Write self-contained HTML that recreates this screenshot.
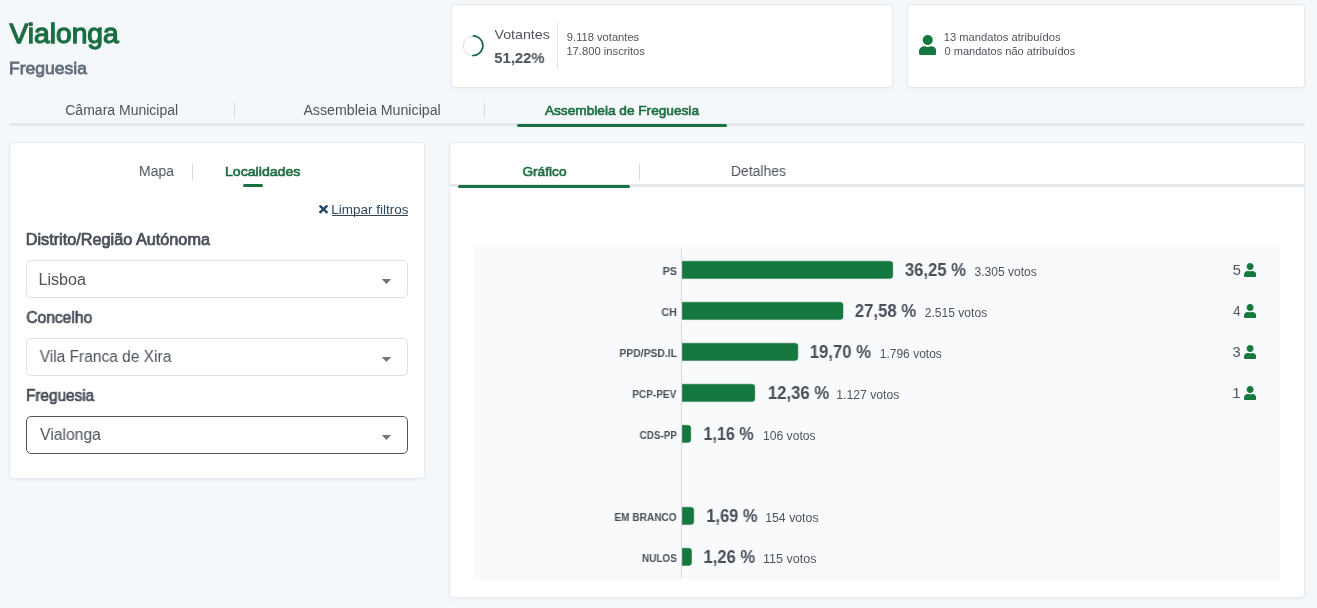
<!DOCTYPE html>
<html lang="pt">
<head>
<meta charset="utf-8">
<title>Vialonga - Freguesia</title>
<style>
html,body{margin:0;padding:0;}
body{width:1317px;height:608px;position:relative;overflow:hidden;background:#f5f8fb;font-family:"Liberation Sans",sans-serif;}
.t{position:absolute;left:0;top:0;white-space:nowrap;line-height:1;transform-origin:0 0;will-change:transform;font-family:"Liberation Sans",sans-serif;}
.a{position:absolute;}
.card{position:absolute;background:#fff;border:1px solid #e6e9ee;border-radius:4px;box-sizing:border-box;box-shadow:0 2px 4px rgba(60,80,110,0.045);}
.vd{position:absolute;width:1px;background:#d7dbe0;}
.gl{position:absolute;background:#e4e8ed;}
.gr{position:absolute;background:#1a7040;border-radius:2px;}
.sel{position:absolute;left:26px;width:382px;height:38px;box-sizing:border-box;border:1px solid #dee0e4;border-radius:5px;background:#fff;}
.sel.act{border-color:#50555c;}
</style>
</head>
<body>

<!-- top cards -->
<div class="card" style="left:451px;top:4px;width:442px;height:84px;"></div>
<div class="card" style="left:907px;top:4px;width:398px;height:84px;"></div>

<!-- donut -->
<svg class="a" style="left:460px;top:33px;" width="26" height="26" viewBox="0 0 26 26">
  <circle cx="13.1" cy="12.7" r="9.8" fill="none" stroke="#e8eaec" stroke-width="1.5"/>
  <circle cx="13.1" cy="12.7" r="9.8" fill="none" stroke="#1d6b41" stroke-width="1.7" stroke-linecap="round"
          stroke-dasharray="30.6 62" transform="rotate(-88 13.1 12.7)"/>
</svg>
<div class="vd" style="left:557px;top:22px;height:47px;background:#e1e4e8;"></div>

<!-- big person icon -->
<svg class="a" style="left:918.7px;top:35.4px;" width="17.5" height="20" viewBox="0 0 448 512"><path fill="#15793f" d="M224 256c70.700 0 128-57.300 128-128S294.700 0 224 0 96 57.300 96 128s57.300 128 128 128zm89.600 32h-16.700c-22.200 10.200-46.900 16-72.900 16s-50.600-5.800-72.900-16h-16.700C60.200 288 0 348.200 0 422.400V464c0 26.500 21.500 48 48 48h352c26.500 0 48-21.500 48-48v-41.600c0-74.200-60.200-134.400-134.400-134.400z"/></svg>

<!-- main tabs -->
<div class="gl" style="left:9px;top:123px;width:1296px;height:3px;border-radius:1.5px;"></div>
<div class="gr" style="left:517px;top:124px;width:210px;height:3px;"></div>
<div class="vd" style="left:234px;top:103px;height:15px;"></div>
<div class="vd" style="left:484px;top:103px;height:15px;"></div>

<!-- left panel -->
<div class="card" style="left:9px;top:142px;width:416px;height:337px;"></div>
<div class="vd" style="left:192px;top:164px;height:16px;"></div>
<div class="gr" style="left:243.3px;top:184px;width:19.6px;height:3px;"></div>
<svg class="a" style="left:318.5px;top:202.85px;" width="9" height="12.3" viewBox="0 0 352 512" preserveAspectRatio="none"><path fill="#1e4369" d="M242.720 256l100.070-100.070c12.280-12.280 12.280-32.190 0-44.480l-22.240-22.240c-12.280-12.280-32.190-12.280-44.480 0L176 189.280 75.930 89.210c-12.280-12.280-32.190-12.280-44.480 0L9.210 111.450c-12.280 12.280-12.280 32.190 0 44.480L109.280 256 9.210 356.070c-12.280 12.280-12.280 32.190 0 44.480l22.240 22.240c12.280 12.280 32.200 12.280 44.480 0L176 322.720l100.070 100.070c12.280 12.280 32.200 12.280 44.480 0l22.240-22.240c12.280-12.280 12.280-32.190 0-44.480L242.720 256z"/></svg>

<div class="sel" style="top:260px;"></div><svg class="a" style="left:381px;top:278.9px;" width="11" height="6" viewBox="0 0 11 6"><path fill="#757575" d="M0.800 0.100H10.100L5.450 4.900Z"/></svg>
<div class="sel" style="top:338px;"></div><svg class="a" style="left:381px;top:356.9px;" width="11" height="6" viewBox="0 0 11 6"><path fill="#757575" d="M0.800 0.100H10.100L5.450 4.900Z"/></svg>
<div class="sel act" style="top:416px;"></div><svg class="a" style="left:381px;top:434.9px;" width="11" height="6" viewBox="0 0 11 6"><path fill="#757575" d="M0.800 0.100H10.100L5.450 4.900Z"/></svg>

<!-- right panel -->
<div class="card" style="left:449px;top:142px;width:856px;height:456px;"></div>
<div class="gl" style="left:450px;top:184px;width:854px;height:3px;"></div>
<div class="gr" style="left:458px;top:185px;width:172.4px;height:3px;"></div>
<div class="vd" style="left:639px;top:164px;height:16px;"></div>

<!-- chart -->
<div class="a" style="left:474px;top:245px;width:806px;height:335px;background:#f9fafc;"></div>
<div class="a" style="left:681px;top:249px;width:1px;height:330px;background:#d6d9de;"></div>
<svg class="a" style="left:682px;top:0;" width="230" height="608" viewBox="0 0 230 608"><path fill="#15793f" stroke="#1f6d43" stroke-opacity="0.55" stroke-width="0.8" d="M0.200 261.2H207.80Q210.80 261.2 210.80 264.00V275.60Q210.80 278.60 207.80 278.60H0.200Z"/><path fill="#15793f" stroke="#1f6d43" stroke-opacity="0.55" stroke-width="0.8" d="M0.200 302.2H158.00Q161.00 302.2 161.00 305.00V316.60Q161.00 319.60 158.00 319.60H0.200Z"/><path fill="#15793f" stroke="#1f6d43" stroke-opacity="0.55" stroke-width="0.8" d="M0.200 343.2H112.90Q115.90 343.2 115.90 346.00V357.60Q115.90 360.60 112.90 360.60H0.200Z"/><path fill="#15793f" stroke="#1f6d43" stroke-opacity="0.55" stroke-width="0.8" d="M0.200 384.2H69.80Q72.80 384.2 72.80 387.00V398.60Q72.80 401.60 69.80 401.60H0.200Z"/><path fill="#15793f" stroke="#1f6d43" stroke-opacity="0.55" stroke-width="0.8" d="M0.200 425.2H5.80Q8.80 425.2 8.80 428.00V439.60Q8.80 442.60 5.80 442.60H0.200Z"/><path fill="#15793f" stroke="#1f6d43" stroke-opacity="0.55" stroke-width="0.8" d="M0.200 507.2H8.75Q11.75 507.2 11.75 510.00V521.60Q11.75 524.60 8.75 524.60H0.200Z"/><path fill="#15793f" stroke="#1f6d43" stroke-opacity="0.55" stroke-width="0.8" d="M0.200 548.2H6.60Q9.60 548.2 9.60 551.00V562.60Q9.60 565.60 6.60 565.60H0.200Z"/></svg>
<svg class="a" style="left:1244px;top:263.05px;" width="12.25" height="14" viewBox="0 0 448 512"><path fill="#15793f" d="M224 256c70.700 0 128-57.300 128-128S294.700 0 224 0 96 57.300 96 128s57.300 128 128 128zm89.600 32h-16.700c-22.200 10.200-46.900 16-72.900 16s-50.600-5.800-72.900-16h-16.700C60.200 288 0 348.200 0 422.400V464c0 26.500 21.500 48 48 48h352c26.500 0 48-21.500 48-48v-41.600c0-74.200-60.200-134.400-134.400-134.400z"/></svg>
<svg class="a" style="left:1244px;top:304.05px;" width="12.25" height="14" viewBox="0 0 448 512"><path fill="#15793f" d="M224 256c70.700 0 128-57.300 128-128S294.700 0 224 0 96 57.300 96 128s57.300 128 128 128zm89.600 32h-16.700c-22.200 10.200-46.900 16-72.900 16s-50.600-5.800-72.900-16h-16.700C60.200 288 0 348.200 0 422.400V464c0 26.500 21.500 48 48 48h352c26.500 0 48-21.500 48-48v-41.600c0-74.200-60.200-134.400-134.400-134.400z"/></svg>
<svg class="a" style="left:1244px;top:345.05px;" width="12.25" height="14" viewBox="0 0 448 512"><path fill="#15793f" d="M224 256c70.700 0 128-57.300 128-128S294.700 0 224 0 96 57.300 96 128s57.300 128 128 128zm89.600 32h-16.700c-22.200 10.200-46.900 16-72.900 16s-50.600-5.800-72.900-16h-16.700C60.200 288 0 348.200 0 422.400V464c0 26.500 21.500 48 48 48h352c26.500 0 48-21.500 48-48v-41.600c0-74.200-60.200-134.400-134.400-134.400z"/></svg>
<svg class="a" style="left:1244px;top:386.05px;" width="12.25" height="14" viewBox="0 0 448 512"><path fill="#15793f" d="M224 256c70.700 0 128-57.300 128-128S294.700 0 224 0 96 57.300 96 128s57.300 128 128 128zm89.600 32h-16.700c-22.200 10.200-46.900 16-72.900 16s-50.600-5.800-72.900-16h-16.700C60.200 288 0 348.200 0 422.400V464c0 26.500 21.500 48 48 48h352c26.500 0 48-21.500 48-48v-41.600c0-74.200-60.200-134.400-134.400-134.400z"/></svg>

<div class="a" style="left:331.8px;top:215px;width:76px;height:1px;background:#33485b;"></div>
<span class="t" style="font-size:28px;transform:translate(9.42px,20.00px) scaleX(1.0076);color:#1b6e40;font-weight:400;-webkit-text-stroke:1.26px #1b6e40;">Vialonga</span>
<span class="t" style="font-size:17px;transform:translate(8.91px,60.00px) scaleX(1.0332);color:#626c7b;font-weight:400;-webkit-text-stroke:0.77px #626c7b;">Freguesia</span>
<span class="t" style="font-size:13.4px;transform:translate(494.55px,28.00px) scaleX(1.0593);color:#4e545c;font-weight:400;">Votantes</span>
<span class="t" style="font-size:15.2px;transform:translate(494.22px,50.00px) scaleX(0.9781);color:#4a505a;font-weight:700;">51,22%</span>
<span class="t" style="font-size:11px;transform:translate(566.87px,32.00px) scaleX(1.0137);color:#4e545c;font-weight:400;">9.118 votantes</span>
<span class="t" style="font-size:11px;transform:translate(566.38px,46.00px) scaleX(1.0197);color:#4e545c;font-weight:400;">17.800 inscritos</span>
<span class="t" style="font-size:11px;transform:translate(943.77px,32.00px) scaleX(1.0151);color:#4e545c;font-weight:400;">13 mandatos atribuídos</span>
<span class="t" style="font-size:11px;transform:translate(944.57px,46.00px) scaleX(1.0026);color:#4e545c;font-weight:400;">0 mandatos não atribuídos</span>
<span class="t" style="font-size:14px;transform:translate(65.24px,103.00px) scaleX(1.0011);color:#4e545c;font-weight:400;">Câmara Municipal</span>
<span class="t" style="font-size:14px;transform:translate(303.38px,103.00px) scaleX(1.0145);color:#4e545c;font-weight:400;">Assembleia Municipal</span>
<span class="t" style="font-size:13.6px;transform:translate(544.94px,104.00px) scaleX(1.0043);color:#1b6e40;font-weight:400;-webkit-text-stroke:0.63px #1b6e40;">Assembleia de Freguesia</span>
<span class="t" style="font-size:14px;transform:translate(138.89px,164.00px) scaleX(0.9987);color:#4e545c;font-weight:400;">Mapa</span>
<span class="t" style="font-size:13.6px;transform:translate(224.98px,165.00px) scaleX(1.0389);color:#1b6e40;font-weight:400;-webkit-text-stroke:0.63px #1b6e40;">Localidades</span>
<span class="t" style="font-size:13px;transform:translate(331.27px,203.00px) scaleX(1.0362);color:#30475c;font-weight:400;">Limpar filtros</span>
<span class="t" style="font-size:16px;transform:translate(25.73px,232.00px) scaleX(1.0155);color:#4a505a;font-weight:400;-webkit-text-stroke:0.74px #4a505a;">Distrito/Região Autónoma</span>
<span class="t" style="font-size:16px;transform:translate(38.53px,272.00px) scaleX(1.0060);color:#4e545c;font-weight:400;">Lisboa</span>
<span class="t" style="font-size:16px;transform:translate(26.31px,310.00px) scaleX(0.9741);color:#4a505a;font-weight:400;-webkit-text-stroke:0.74px #4a505a;">Concelho</span>
<span class="t" style="font-size:16px;transform:translate(39.69px,349.00px) scaleX(0.9696);color:#4e545c;font-weight:400;">Vila Franca de Xira</span>
<span class="t" style="font-size:16px;transform:translate(26.05px,388.00px) scaleX(0.9567);color:#4a505a;font-weight:400;-webkit-text-stroke:0.74px #4a505a;">Freguesia</span>
<span class="t" style="font-size:16px;transform:translate(40.00px,427.00px) scaleX(0.9827);color:#4e545c;font-weight:400;">Vialonga</span>
<span class="t" style="font-size:13.6px;transform:translate(522.38px,165.00px) scaleX(1.0080);color:#1b6e40;font-weight:400;-webkit-text-stroke:0.63px #1b6e40;">Gráfico</span>
<span class="t" style="font-size:14px;transform:translate(730.84px,164.00px) scaleX(0.9973);color:#4e545c;font-weight:400;">Detalhes</span>
<span class="t" style="font-size:11px;transform:translate(662.64px,266.00px) scaleX(0.9810);color:#4a505a;font-weight:700;">PS</span>
<span class="t" style="font-size:17.6px;transform:translate(904.89px,262.00px) scaleX(0.9458);color:#4a505a;font-weight:700;">36,25 %</span>
<span class="t" style="font-size:12px;transform:translate(974.59px,266.00px) scaleX(1.0013);color:#4e545c;font-weight:400;">3.305 votos</span>
<span class="t" style="font-size:14px;transform:translate(1232.65px,263.00px) scaleX(1.0414);color:#4e545c;font-weight:400;">5</span>
<span class="t" style="font-size:11px;transform:translate(661.49px,307.00px) scaleX(0.9592);color:#4a505a;font-weight:700;">CH</span>
<span class="t" style="font-size:17.6px;transform:translate(854.81px,303.00px) scaleX(0.9497);color:#4a505a;font-weight:700;">27,58 %</span>
<span class="t" style="font-size:12px;transform:translate(924.73px,307.00px) scaleX(1.0063);color:#4e545c;font-weight:400;">2.515 votos</span>
<span class="t" style="font-size:14px;transform:translate(1233.22px,304.00px) scaleX(0.9315);color:#4e545c;font-weight:400;">4</span>
<span class="t" style="font-size:11px;transform:translate(619.40px,348.00px) scaleX(0.9415);color:#4a505a;font-weight:700;">PPD/PSD.IL</span>
<span class="t" style="font-size:17.6px;transform:translate(809.75px,344.00px) scaleX(0.9481);color:#4a505a;font-weight:700;">19,70 %</span>
<span class="t" style="font-size:12px;transform:translate(879.70px,348.00px) scaleX(1.0021);color:#4e545c;font-weight:400;">1.796 votos</span>
<span class="t" style="font-size:14px;transform:translate(1232.62px,345.00px) scaleX(1.0437);color:#4e545c;font-weight:400;">3</span>
<span class="t" style="font-size:11px;transform:translate(632.28px,389.00px) scaleX(0.9119);color:#4a505a;font-weight:700;">PCP-PEV</span>
<span class="t" style="font-size:17.6px;transform:translate(767.87px,385.00px) scaleX(0.9485);color:#4a505a;font-weight:700;">12,36 %</span>
<span class="t" style="font-size:12px;transform:translate(836.31px,389.00px) scaleX(1.0167);color:#4e545c;font-weight:400;">1.127 votos</span>
<span class="t" style="font-size:14px;transform:translate(1232.33px,386.00px) scaleX(1.0755);color:#4e545c;font-weight:400;">1</span>
<span class="t" style="font-size:11px;transform:translate(639.55px,430.00px) scaleX(0.8966);color:#4a505a;font-weight:700;">CDS-PP</span>
<span class="t" style="font-size:17.6px;transform:translate(703.49px,426.00px) scaleX(0.9137);color:#4a505a;font-weight:700;">1,16 %</span>
<span class="t" style="font-size:12px;transform:translate(763.04px,430.00px) scaleX(1.0087);color:#4e545c;font-weight:400;">106 votos</span>
<span class="t" style="font-size:11px;transform:translate(614.41px,512.00px) scaleX(0.9166);color:#4a505a;font-weight:700;">EM BRANCO</span>
<span class="t" style="font-size:17.6px;transform:translate(706.33px,508.00px) scaleX(0.9315);color:#4a505a;font-weight:700;">1,69 %</span>
<span class="t" style="font-size:12px;transform:translate(765.18px,512.00px) scaleX(1.0253);color:#4e545c;font-weight:400;">154 votos</span>
<span class="t" style="font-size:11px;transform:translate(641.98px,553.00px) scaleX(0.9052);color:#4a505a;font-weight:700;">NULOS</span>
<span class="t" style="font-size:17.6px;transform:translate(703.44px,549.00px) scaleX(0.9420);color:#4a505a;font-weight:700;">1,26 %</span>
<span class="t" style="font-size:12px;transform:translate(762.97px,553.00px) scaleX(1.0450);color:#4e545c;font-weight:400;">115 votos</span>

</body>
</html>
